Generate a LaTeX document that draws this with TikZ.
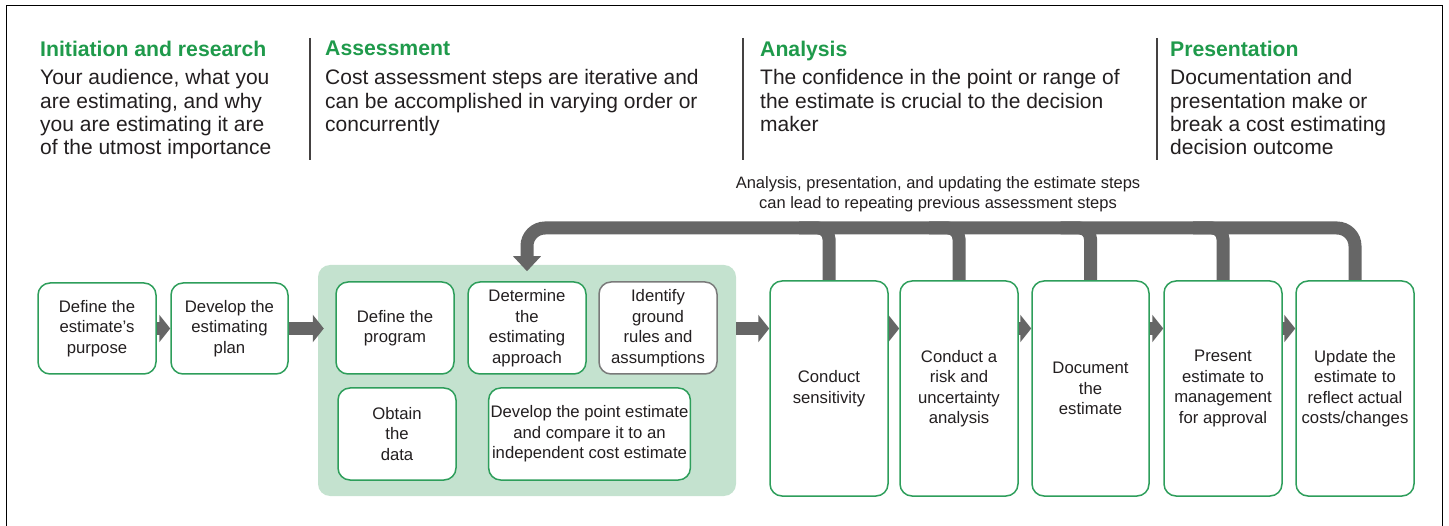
\documentclass[tikz,border=0pt]{standalone}
\usepackage{fontspec}
\setmainfont{Liberation Sans}
\usetikzlibrary{arrows.meta}
\definecolor{hgreen}{HTML}{1F9A4B}
\definecolor{bgreen}{HTML}{2E9E5B}
\definecolor{pgreen}{HTML}{C4E2CF}
\definecolor{agray}{HTML}{666666}
\definecolor{txt}{HTML}{231F20}
\definecolor{bgray}{HTML}{7A7A7A}
\pgfdeclarelayer{back}
\pgfdeclarelayer{mid}
\pgfsetlayers{back,mid,main}
\begin{document}
\begin{tikzpicture}[x=1pt,y=-1pt,
  stepbox/.style={draw=bgreen, line width=1.5pt, fill=white, rounded corners=12pt, align=center, text=txt, font=\fontsize{16.7}{20.5}\selectfont, inner sep=2pt, minimum width=118pt},
  headtext/.style={anchor=north west, inner sep=0pt, text=hgreen, font=\fontsize{21.2}{23.3}\selectfont\bfseries},
  bodytext/.style={anchor=north west, inner sep=0pt, align=left, text=txt, font=\fontsize{21}{23.3}\selectfont},
  sepline/.style={draw=txt!85, line width=1.2pt},
  flow/.style={draw=agray, line width=13pt, -{Triangle[length=11pt,width=27pt]}},
  loopline/.style={draw=agray, line width=13pt}
]
\useasboundingbox (0,0) rectangle (1449,526);
\draw[line width=1.8pt, black] (6.5,526) -- (6.5,5.5) -- (1442.5,5.5) -- (1442.5,526);

% column headers
\node[headtext] (h1) at (40,40.5) {Initiation and research};
\node[bodytext] (t1) at (40,69.5) {Your audience, what you\\are estimating, and why\\you are estimating it are\\of the utmost importance};
\node[headtext] (h2) at (325,40.5) {Assessment};
\node[bodytext] (t2) at (325,69.5) {Cost assessment steps are iterative and\\can be accomplished in varying order or\\concurrently};
\node[headtext] (h3) at (760,40.5) {Analysis};
\node[bodytext] (t3) at (760,69.5) {The confidence in the point or range of\\the estimate is crucial to the decision\\maker};
\node[headtext] (h4) at (1170,40.5) {Presentation};
\node[bodytext] (t4) at (1170,69.5) {Documentation and\\presentation make or\\break a cost estimating\\decision outcome};
\coordinate (s1a) at (310,38); \coordinate (s1b) at (310,160);
\coordinate (s2a) at (743,38); \coordinate (s2b) at (743,160);
\coordinate (s3a) at (1157,38); \coordinate (s3b) at (1157,160);
\draw[sepline] (s1a) -- (s1b);
\draw[sepline] (s2a) -- (s2b);
\draw[sepline] (s3a) -- (s3b);

% loop label
\node[align=center, text=txt, font=\fontsize{16.5}{19.5}\selectfont, inner sep=0pt] (looplabel) at (938,194) {Analysis, presentation, and updating the estimate steps\\can lead to repeating previous assessment steps};

% panel
\begin{pgfonlayer}{back}
\node[fill=pgreen, rounded corners=12pt, minimum width=418pt, minimum height=231pt, inner sep=0pt] (panel) at (527,380.5) {};
\end{pgfonlayer}

% boxes
\path
  node[stepbox, minimum height=91pt] (b1) at (97,328.5) {Define the\\estimate’s\\purpose}
  node[stepbox, minimum height=91pt, minimum width=117pt] (b2) at (229.5,328.5) {Develop the\\estimating\\plan}
  node[stepbox, minimum height=92pt] (p1) at (395,328) {Define the\\program}
  node[stepbox, minimum height=92pt] (p2) at (527,328) {Determine\\the\\estimating\\approach}
  node[stepbox, draw=bgray, minimum height=92pt] (p3) at (658,328) {Identify\\ground\\rules and\\assumptions}
  node[stepbox, minimum height=92pt] (p4) at (397,434) {Obtain\\the\\data}
  node[stepbox, minimum height=92pt, minimum width=201pt] (p5) at (589.5,434) {Develop the point estimate\\and compare it to an\\independent cost estimate}
  node[stepbox, minimum height=215pt] (c1) at (829,388.5) {Conduct\\sensitivity}
  node[stepbox, minimum height=215pt] (c2) at (959,388.5) {Conduct a\\risk and\\uncertainty\\analysis}
  node[stepbox, minimum height=215pt, minimum width=117pt] (c3) at (1090.5,388.5) {Document\\the\\estimate}
  node[stepbox, minimum height=215pt] (c4) at (1223,388.5) {Present\\estimate to\\management\\for approval}
  node[stepbox, minimum height=215pt] (c5) at (1355,388.5) {Update the\\estimate to\\reflect actual\\costs/changes};

% connectors
\coordinate (bar) at (0,228);
\begin{pgfonlayer}{mid}
\draw[flow] (b1.east) -- (b2.west);
\draw[flow] (b2.east) -- ([xshift=6pt]panel.west |- b2.east);
\draw[flow] (panel.east |- b2.east) -- (c1.west |- b2.east);
\draw[flow] (c1.east |- b2.east) -- (c2.west |- b2.east);
\draw[flow] (c2.east |- b2.east) -- (c3.west |- b2.east);
\draw[flow] (c3.east |- b2.east) -- (c4.west |- b2.east);
\draw[flow] (c4.east |- b2.east) -- (c5.west |- b2.east);
\draw[loopline, rounded corners=18pt, -{Triangle[length=15pt,width=27pt]}] (c5.north) -- (c5.north |- bar) -- (p2.north |- bar) -- ([yshift=10pt]p2.north);
\draw[loopline, rounded corners=11pt] (c1.north) -- (c1.north |- bar) -- ([xshift=-30pt]c1.north |- bar);
\draw[loopline, rounded corners=11pt] (c2.north) -- (c2.north |- bar) -- ([xshift=-30pt]c2.north |- bar);
\draw[loopline, rounded corners=11pt] (c3.north) -- (c3.north |- bar) -- ([xshift=-30pt]c3.north |- bar);
\draw[loopline, rounded corners=11pt] (c4.north) -- (c4.north |- bar) -- ([xshift=-30pt]c4.north |- bar);
\end{pgfonlayer}
\end{tikzpicture}
\end{document}
